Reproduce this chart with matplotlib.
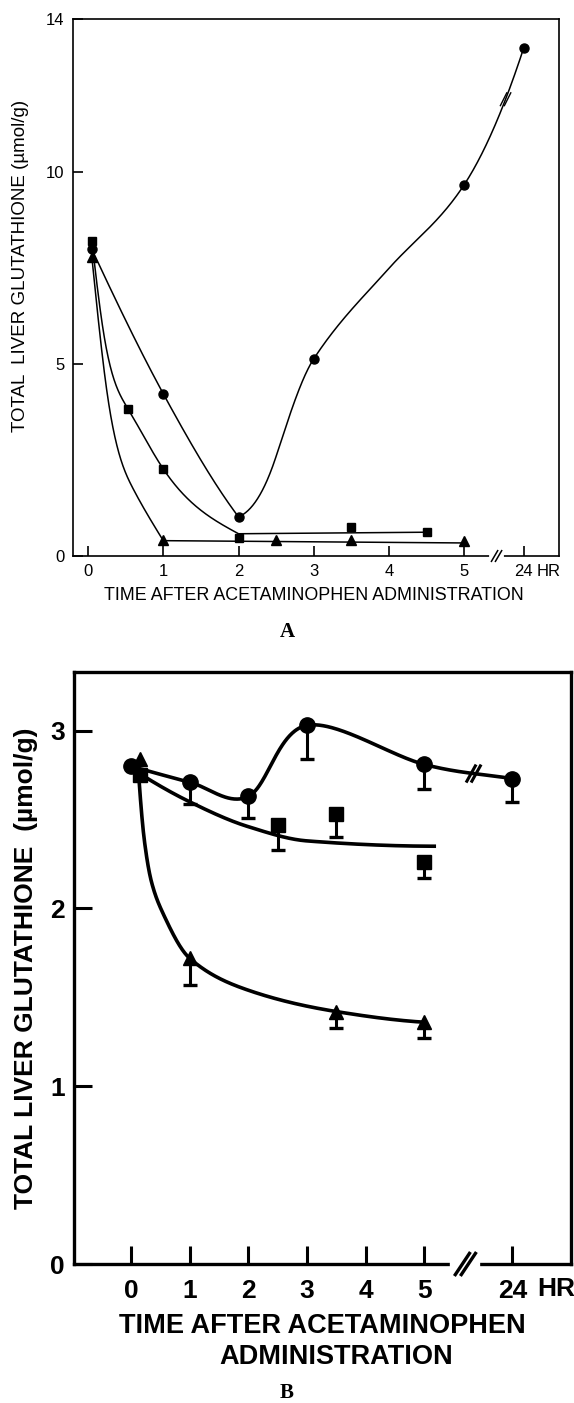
import numpy as np
import matplotlib
matplotlib.use('Agg')
import matplotlib.pyplot as plt

plt.rcParams['font.family'] = ['Liberation Sans', 'DejaVu Sans']

# ---- panel A (hours after dose, umol/g) ----
A_XTICK_HR = [0, 1, 2, 3, 4, 5, 24]
A_XTICK_LAB = ['0', '1', '2', '3', '4', '5', '24']
A_YTICKS = [0, 5, 10, 14]

A_CIRC_HR = [0.05, 1, 2, 3, 5, 24]
A_CIRC = [8.0, 4.23, 1.02, 5.14, 9.68, 13.24]
A_SQ_HR = [0.05, 0.53, 1, 2, 3.5, 4.5]
A_SQ = [8.22, 3.84, 2.27, 0.47, 0.76, 0.63]
A_TRI_HR = [0.05, 1, 2.5, 3.5, 5]
A_TRI = [7.8, 0.42, 0.42, 0.42, 0.40]

# hand-drawn curves, drawn piece by piece
# circle curve: knots and the slope of the drawn line at each knot
A_CIRC_FIT1_HR = [0.05, 1, 2]
A_CIRC_FIT1 = [8.0, 4.23, 1.02]
A_CIRC_FIT1_SLOPE = [-4.2, -3.6, -2.6]
A_CIRC_FIT2_HR = [2, 2.5, 3, 4, 5, 24]
A_CIRC_FIT2 = [1.02, 2.6, 5.14, 7.5, 9.68, 13.24]
A_CIRC_FIT2_SLOPE = [0.8, 6.0, 3.0, 2.2, 3.0, 6.0]
A_SQ_FIT_HR = [0.05, 0.2, 0.53, 1, 2]
A_SQ_FIT = [8.22, 5.9, 3.84, 2.27, 0.58]
A_SQ_TAIL_HR = [2, 4.5]
A_SQ_TAIL = [0.58, 0.62]
A_TRI_FIT_HR = [0.05, 0.25, 0.6, 1]
A_TRI_FIT = [7.8, 4.3, 1.75, 0.40]
A_TRI_TAIL_HR = [1, 5]
A_TRI_TAIL = [0.40, 0.34]

# ---- panel B ----
B_XTICK_HR = [0, 1, 2, 3, 4, 5, 24]
B_XTICK_LAB = ['0', '1', '2', '3', '4', '5', '24']
B_YTICKS = [0, 1, 2, 3]

B_CIRC_HR = [0, 1, 2, 3, 5, 24]
B_CIRC = [2.80, 2.71, 2.63, 3.03, 2.81, 2.73]
B_CIRC_LO = [np.nan, 2.59, 2.51, 2.84, 2.67, 2.60]
B_SQ_HR = [0.15, 2.5, 3.5, 5]
B_SQ = [2.75, 2.47, 2.53, 2.26]
B_SQ_LO = [np.nan, 2.33, 2.40, 2.17]
B_TRI_HR = [0.15, 1, 3.5, 5]
B_TRI = [2.84, 1.72, 1.42, 1.36]
B_TRI_LO = [np.nan, 1.57, 1.33, 1.27]

B_CIRC_FIT_HR = [0, 1, 2, 3, 5, 24]
B_CIRC_FIT = [2.80, 2.71, 2.63, 3.03, 2.81, 2.73]
B_SQ_FIT_HR = [0, 1, 2, 3, 5.2]
B_SQ_FIT = [2.79, 2.60, 2.46, 2.38, 2.35]
B_TRI_FIT_HR = [0.13, 0.23, 0.35, 0.55, 1, 2, 3.5, 5]
B_TRI_FIT = [2.76, 2.38, 2.15, 1.97, 1.72, 1.54, 1.42, 1.36]


def pos(hr, p24):
    # broken time axis: 24 hr sits just past the break
    hr = np.asarray(hr, float)
    return np.where(hr > 5.6, p24, hr)


def hermite(x, y, m, n=600):
    x = np.asarray(x, float)
    y = np.asarray(y, float)
    m = np.asarray(m, float)
    h = np.diff(x)
    xs = np.linspace(x[0], x[-1], n)
    i = np.clip(np.searchsorted(x, xs) - 1, 0, len(x) - 2)
    t = (xs - x[i]) / h[i]
    h00 = 2 * t**3 - 3 * t**2 + 1
    h10 = t**3 - 2 * t**2 + t
    h01 = -2 * t**3 + 3 * t**2
    h11 = t**3 - t**2
    ys = h00 * y[i] + h10 * h[i] * m[i] + h01 * y[i + 1] + h11 * h[i] * m[i + 1]
    return xs, ys


def _edge(h0, h1, m0, m1):
    d = ((2 * h0 + h1) * m0 - h0 * m1) / (h0 + h1)
    if np.sign(d) != np.sign(m0):
        return 0.0
    if np.sign(m0) != np.sign(m1) and abs(d) > abs(3 * m0):
        return 3 * m0
    return d


def pchip(x, y, n=600):
    x = np.asarray(x, float)
    y = np.asarray(y, float)
    h = np.diff(x)
    d = np.diff(y) / h
    m = np.zeros_like(y)
    for k in range(1, len(x) - 1):
        if d[k - 1] * d[k] > 0:
            w1 = 2 * h[k] + h[k - 1]
            w2 = h[k] + 2 * h[k - 1]
            m[k] = (w1 + w2) / (w1 / d[k - 1] + w2 / d[k])
    m[0] = _edge(h[0], h[1], d[0], d[1])
    m[-1] = _edge(h[-1], h[-2], d[-1], d[-2])
    return hermite(x, y, m, n)


def nspline(x, y, n=600):
    # natural cubic spline
    x = np.asarray(x, float)
    y = np.asarray(y, float)
    N = len(x)
    h = np.diff(x)
    A = np.zeros((N, N))
    r = np.zeros(N)
    A[0, 0] = A[-1, -1] = 1
    for i in range(1, N - 1):
        A[i, i - 1] = h[i - 1]
        A[i, i] = 2 * (h[i - 1] + h[i])
        A[i, i + 1] = h[i]
        r[i] = 6 * ((y[i + 1] - y[i]) / h[i] - (y[i] - y[i - 1]) / h[i - 1])
    M = np.linalg.solve(A, r)
    xs = np.linspace(x[0], x[-1], n)
    i = np.clip(np.searchsorted(x, xs) - 1, 0, N - 2)
    hi = h[i]
    a = x[i + 1] - xs
    b = xs - x[i]
    ys = (M[i] * a**3 + M[i + 1] * b**3) / (6 * hi) \
        + (y[i] / hi - M[i] * hi / 6) * a + (y[i + 1] / hi - M[i + 1] * hi / 6) * b
    return xs, ys


def catmull(x, y, n=80):
    p = np.column_stack([x, y]).astype(float)
    p = np.vstack([2 * p[0] - p[1], p, 2 * p[-1] - p[-2]])
    t = np.linspace(0, 1, n)[:, None]
    segs = []
    for i in range(1, len(p) - 2):
        p0, p1, p2, p3 = p[i - 1], p[i], p[i + 1], p[i + 2]
        segs.append(0.5 * (2 * p1 + (p2 - p0) * t
                           + (2 * p0 - 5 * p1 + 4 * p2 - p3) * t**2
                           + (3 * p1 - p0 - 3 * p2 + p3) * t**3))
    s = np.vstack(segs)
    return s[:, 0], s[:, 1]


def slashes(ax, x, y, w, h, sep, lw, on_axis=False):
    trans = ax.get_xaxis_transform() if on_axis else ax.transData
    cx, cy = trans.transform((x, y))
    inv = ax.transData.inverted()
    if on_axis:
        # white gap in the axis line
        g = inv.transform([(cx - sep / 2 - w / 2, cy), (cx + sep / 2 + w / 2, cy)])
        ax.plot(g[:, 0], g[:, 1], color='white', lw=lw * 2.5, clip_on=False, zorder=4)
    for dx in (-sep / 2, sep / 2):
        p = inv.transform([(cx + dx - w / 2, cy - h / 2), (cx + dx + w / 2, cy + h / 2)])
        ax.plot(p[:, 0], p[:, 1], color='k', lw=lw, clip_on=False, zorder=5,
                solid_capstyle='butt')


fig = plt.figure(figsize=(5.74, 14.03), dpi=100)

# ================= panel A =================
A24 = 5.79
axA = fig.add_axes([73 / 574, 1 - 556 / 1403, 486 / 574, 537 / 1403])
axA.set_xlim(-0.2, 6.26)
axA.set_ylim(0, 14)
for s in axA.spines.values():
    s.set_linewidth(1.2)

c1x, c1y = hermite(pos(A_CIRC_FIT1_HR, A24), A_CIRC_FIT1, A_CIRC_FIT1_SLOPE)
# slope between 5 hr and 24 hr is in plot units, fine for a drawn curve
c2x, c2y = hermite(pos(A_CIRC_FIT2_HR, A24), A_CIRC_FIT2, A_CIRC_FIT2_SLOPE)
axA.plot(c1x, c1y, color='k', lw=1.1, zorder=3)
axA.plot(c2x, c2y, color='k', lw=1.1, zorder=3)

for fx, fy in [(A_SQ_FIT_HR, A_SQ_FIT), (A_SQ_TAIL_HR, A_SQ_TAIL),
               (A_TRI_FIT_HR, A_TRI_FIT), (A_TRI_TAIL_HR, A_TRI_TAIL)]:
    if len(fx) > 2:
        xs, ys = nspline(pos(fx, A24), fy)
    else:
        xs, ys = pos(fx, A24), fy
    axA.plot(xs, ys, color='k', lw=1.1, zorder=3)

axA.plot(pos(A_CIRC_HR, A24), A_CIRC, 'o', color='k', ms=6.5, zorder=4)
axA.plot(pos(A_SQ_HR, A24), A_SQ, 's', color='k', ms=5.5, zorder=4)
axA.plot(pos(A_TRI_HR, A24), A_TRI, '^', color='k', ms=6.5, zorder=4)

axA.set_xticks(pos(A_XTICK_HR, A24))
axA.set_xticklabels(A_XTICK_LAB)
axA.set_yticks(A_YTICKS)
axA.tick_params(direction='in', length=7, width=1.2, labelsize=12, pad=6)

slashes(axA, 5.55, np.interp(5.55, c2x, c2y), 7, 14, 4, 1.0)
slashes(axA, 5.43, 0, 7, 12, 4, 1.1, on_axis=True)

fig.text(537 / 574, 1 - 571 / 1403, 'HR', ha='left', va='center', fontsize=12)
fig.text(21 / 574, 1 - 266 / 1403, 'TOTAL  LIVER GLUTATHIONE (µmol/g)', rotation=90,
         ha='center', va='center', fontsize=13.5)
fig.text(314 / 574, 1 - 595 / 1403, 'TIME AFTER ACETAMINOPHEN ADMINISTRATION',
         ha='center', va='center', fontsize=12.9)
fig.text(287 / 574, 1 - 632 / 1403, 'A', ha='center', va='center', fontsize=15,
         family='Liberation Serif', weight='bold')

# ================= panel B =================
B24 = 6.5
axB = fig.add_axes([74 / 574, 1 - 1264 / 1403, 497 / 574, 592 / 1403])
axB.set_xlim(-0.97, 7.5)
axB.set_ylim(0, 3.33)
for s in axB.spines.values():
    s.set_linewidth(2.4)

bcx, bcy = catmull(pos(B_CIRC_FIT_HR, B24), B_CIRC_FIT)
axB.plot(bcx, bcy, color='k', lw=2.6, zorder=3, solid_capstyle='butt')
for fx, fy in [(B_SQ_FIT_HR, B_SQ_FIT), (B_TRI_FIT_HR, B_TRI_FIT)]:
    xs, ys = pchip(pos(fx, B24), fy)
    axB.plot(xs, ys, color='k', lw=2.6, zorder=3, solid_capstyle='butt')

for hr, val, lo, mk, ms in [(B_CIRC_HR, B_CIRC, B_CIRC_LO, 'o', 11),
                            (B_SQ_HR, B_SQ, B_SQ_LO, 's', 9.5),
                            (B_TRI_HR, B_TRI, B_TRI_LO, '^', 10.5)]:
    px = pos(hr, B24)
    axB.vlines(px, lo, val, color='k', lw=2.2, zorder=3)
    axB.plot(px, lo, '_', color='k', ms=9.5, mew=2.4, zorder=3)
    axB.plot(px, val, mk, color='k', ms=ms, zorder=4)

axB.set_xticks(pos(B_XTICK_HR, B24))
axB.set_xticklabels(B_XTICK_LAB)
axB.set_yticks(B_YTICKS)
axB.tick_params(direction='in', length=13, width=2.2, labelsize=19)
axB.tick_params(axis='x', pad=11)
axB.tick_params(axis='y', pad=6.5)
for lab in axB.get_xticklabels() + axB.get_yticklabels():
    lab.set_fontweight('bold')

slashes(axB, 5.84, np.interp(5.84, bcx, bcy), 10, 18, 5, 2.2)
slashes(axB, 5.7, 0, 16, 24, 6, 2.4, on_axis=True)

fig.text(537 / 574, 1 - 1289 / 1403, 'HR', ha='left', va='center', fontsize=19,
         weight='bold')
fig.text(26 / 574, 1 - 968 / 1403, 'TOTAL LIVER GLUTATHIONE  (µmol/g)', rotation=90,
         ha='center', va='center', fontsize=19, weight='bold')
fig.text(322 / 574, 1 - 1326 / 1403, 'TIME AFTER ACETAMINOPHEN',
         ha='center', va='center', fontsize=19.5, weight='bold')
fig.text(336 / 574, 1 - 1357 / 1403, 'ADMINISTRATION',
         ha='center', va='center', fontsize=19.5, weight='bold')
fig.text(287 / 574, 1 - 1393 / 1403, 'B', ha='center', va='center', fontsize=15,
         family='Liberation Serif', weight='bold')

fig.savefig('out.png', dpi=100)
